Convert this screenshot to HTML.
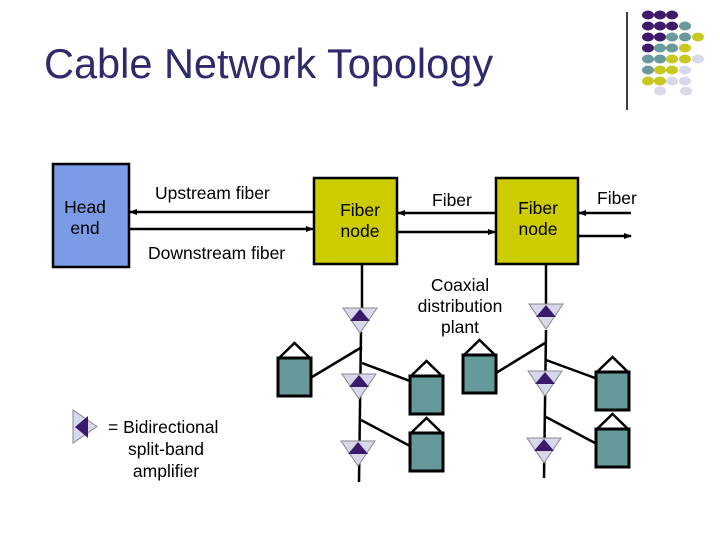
<!DOCTYPE html>
<html><head><style>
body{margin:0;background:#fff}
svg{display:block}
text{font-family:"Liberation Sans",Arial,sans-serif;fill:#000}
</style></head><body>
<svg width="720" height="540" viewBox="0 0 720 540" xmlns="http://www.w3.org/2000/svg">
<defs>
<marker id="ah" markerWidth="8" markerHeight="8" refX="7" refY="4" orient="auto" markerUnits="userSpaceOnUse"><path d="M0,1 L8,4 L0,7z" fill="#000"/></marker>
<g id="amp">
<path d="M-17,0 L17,0 L0,25z" fill="#d8d8ec" stroke="#888" stroke-width="1"/>
<path d="M0,1 L-10,13 L10,13z" fill="#3a1a6a"/>
</g>
<g id="house">
<rect x="0" y="0" width="33" height="38" fill="#669999" stroke="#000" stroke-width="3"/>
<path d="M1,0 L16.5,-15 L32,0" fill="none" stroke="#000" stroke-width="2.5"/>
</g>
</defs>
<text x="44" y="78" font-size="41.5" style="fill:#2e2a6b">Cable Network Topology</text>
<line x1="627" y1="12" x2="627" y2="110" stroke="#000" stroke-width="1.5"/>
<g>
<g fill="#3f1a6b">
<ellipse cx="648" cy="15" rx="6" ry="4.5"/><ellipse cx="660" cy="15" rx="6" ry="4.5"/><ellipse cx="672" cy="15" rx="6" ry="4.5"/>
<ellipse cx="648" cy="26" rx="6" ry="4.5"/><ellipse cx="660" cy="26" rx="6" ry="4.5"/><ellipse cx="672" cy="26" rx="6" ry="4.5"/>
<ellipse cx="648" cy="37" rx="6" ry="4.5"/><ellipse cx="660" cy="37" rx="6" ry="4.5"/>
<ellipse cx="648" cy="48" rx="6" ry="4.5"/>
</g>
<g fill="#6a9a9a">
<ellipse cx="685" cy="26" rx="6" ry="4.5"/>
<ellipse cx="672" cy="37" rx="6" ry="4.5"/><ellipse cx="685" cy="37" rx="6" ry="4.5"/>
<ellipse cx="660" cy="48" rx="6" ry="4.5"/><ellipse cx="672" cy="48" rx="6" ry="4.5"/>
<ellipse cx="648" cy="59" rx="6" ry="4.5"/><ellipse cx="660" cy="59" rx="6" ry="4.5"/>
<ellipse cx="648" cy="70" rx="6" ry="4.5"/>
</g>
<g fill="#c8c820">
<ellipse cx="698" cy="37" rx="6" ry="4.5"/>
<ellipse cx="685" cy="48" rx="6" ry="4.5"/>
<ellipse cx="672" cy="59" rx="6" ry="4.5"/><ellipse cx="685" cy="59" rx="6" ry="4.5"/>
<ellipse cx="660" cy="70" rx="6" ry="4.5"/><ellipse cx="672" cy="70" rx="6" ry="4.5"/>
<ellipse cx="648" cy="81" rx="6" ry="4.5"/><ellipse cx="660" cy="81" rx="6" ry="4.5"/>
</g>
<g fill="#d8d8ea">
<ellipse cx="698" cy="59" rx="6" ry="4.5"/>
<ellipse cx="685" cy="70" rx="6" ry="4.5"/>
<ellipse cx="672" cy="81" rx="6" ry="4.5"/><ellipse cx="685" cy="81" rx="6" ry="4.5"/>
<ellipse cx="660" cy="91" rx="6" ry="4.5"/><ellipse cx="686" cy="91" rx="6" ry="4.5"/>
</g>
</g>
<rect x="53" y="164" width="76" height="103" fill="#7b9be6" stroke="#000" stroke-width="2.5"/>
<text x="85" y="213" font-size="17.5" text-anchor="middle">Head</text>
<text x="85" y="234" font-size="17.5" text-anchor="middle">end</text>
<rect x="314" y="178" width="83" height="86" fill="#cccc00" stroke="#000" stroke-width="2.5"/>
<text x="360" y="216" font-size="17.5" text-anchor="middle">Fiber</text>
<text x="360" y="237" font-size="17.5" text-anchor="middle">node</text>
<rect x="496" y="178" width="82" height="86" fill="#cccc00" stroke="#000" stroke-width="2.5"/>
<text x="538" y="214" font-size="17.5" text-anchor="middle">Fiber</text>
<text x="538" y="235" font-size="17.5" text-anchor="middle">node</text>
<g stroke="#000" stroke-width="2.5" fill="none">
<line x1="313" y1="212" x2="130" y2="212" marker-end="url(#ah)"/>
<line x1="130" y1="229" x2="313" y2="229" marker-end="url(#ah)"/>
<line x1="496" y1="213" x2="398" y2="213" marker-end="url(#ah)"/>
<line x1="398" y1="232" x2="495" y2="232" marker-end="url(#ah)"/>
<line x1="631" y1="213" x2="579" y2="213" marker-end="url(#ah)"/>
<line x1="579" y1="236" x2="631" y2="236" marker-end="url(#ah)"/>
</g>
<text x="155" y="199" font-size="17.5">Upstream fiber</text>
<text x="148" y="259" font-size="17.5">Downstream fiber</text>
<text x="432" y="206" font-size="17.5">Fiber</text>
<text x="597" y="204" font-size="17.5">Fiber</text>
<text x="460" y="291" font-size="17.5" text-anchor="middle">Coaxial</text>
<text x="460" y="312" font-size="17.5" text-anchor="middle">distribution</text>
<text x="460" y="333" font-size="17.5" text-anchor="middle">plant</text>
<g stroke="#000" stroke-width="2.5" fill="none">
<line x1="362" y1="264" x2="362" y2="308"/>
<line x1="361" y1="332" x2="359" y2="482"/>
<line x1="362" y1="347" x2="312" y2="377"/>
<line x1="362" y1="363" x2="410" y2="381"/>
<line x1="361" y1="420" x2="410" y2="446"/>
<line x1="546" y1="264" x2="546" y2="304"/>
<line x1="546" y1="330" x2="544" y2="478"/>
<line x1="545" y1="343" x2="496" y2="373"/>
<line x1="546" y1="360" x2="595" y2="378"/>
<line x1="546" y1="417" x2="595" y2="443"/>
</g>
<use href="#amp" x="360" y="308"/>
<use href="#amp" x="359" y="374"/>
<use href="#amp" x="358" y="441"/>
<use href="#amp" x="546" y="304"/>
<use href="#amp" x="545" y="371"/>
<use href="#amp" x="544" y="438"/>
<use href="#house" x="278" y="358"/>
<use href="#house" x="410" y="376"/>
<use href="#house" x="410" y="433"/>
<use href="#house" x="463" y="355"/>
<use href="#house" x="596" y="372"/>
<use href="#house" x="596" y="429"/>
<path d="M73,410 L73,443 L97,426.5z" fill="#d8d8ec" stroke="#888" stroke-width="1"/>
<path d="M75,427 L88,416 L88,438z" fill="#3a1a6a"/>
<text x="108" y="433" font-size="17.5">= Bidirectional</text>
<text x="166" y="455" font-size="17.5" text-anchor="middle">split-band</text>
<text x="166" y="477" font-size="17.5" text-anchor="middle">amplifier</text>
</svg>
</body></html>
